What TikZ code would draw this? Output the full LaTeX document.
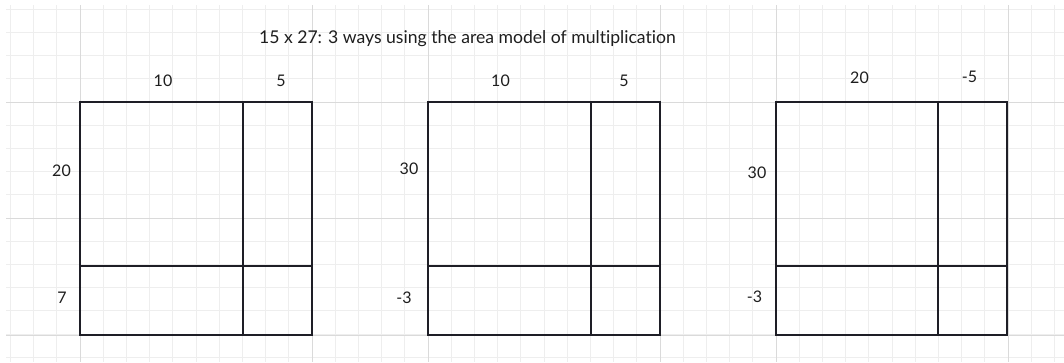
\documentclass[tikz,border=0pt]{standalone}
\usepackage{fontspec}
\setmainfont{Lato}[Ligatures={NoCommon}]
\definecolor{ink}{RGB}{30,30,38}
\definecolor{txt}{RGB}{30,30,30}
\definecolor{gridminor}{RGB}{238,238,238}
\definecolor{gridmajor}{RGB}{218,218,218}
\begin{document}
\begin{tikzpicture}[x=1pt,y=-1pt,
  boxline/.style={draw=ink,line width=2.8pt,line cap=rect},
  lbl/.style={text=txt,font=\fontsize{16}{18}\selectfont,inner sep=0pt,anchor=center},
  ttl/.style={text=txt,font=\fontsize{17.6}{20}\selectfont,inner sep=0pt,anchor=center}]
\useasboundingbox[fill=white] (0,0) rectangle (1064,362);
% grid
\foreach \k in {0,...,45}{
  \pgfmathsetmacro{\xx}{10.4+23.2*\k}
  \draw[gridminor,line width=1pt] (\xx,5) -- (\xx,362);
}
\foreach \k in {0,...,15}{
  \pgfmathsetmacro{\yy}{9.2+23.2*\k}
  \draw[gridminor,line width=1pt] (6,\yy) -- (1064,\yy);
}
\foreach \xx in {80,312,428,660,776,1008}{
  \draw[gridmajor,line width=1pt] (\xx,5) -- (\xx,362);
}
\foreach \yy in {102,218,335}{
  \draw[gridmajor,line width=1pt] (6,\yy) -- (1064,\yy);
}
% title
\node[ttl] (title) at (467.5,39) {15 x 27: 3 ways using the area model of multiplication};
% box 1
\draw[boxline] (80,102) rectangle (312,335);
\draw[boxline] (243,102) -- (243,335);
\draw[boxline] (80,266) -- (312,266);
\node[lbl] (a1) at (163,81) {10};
\node[lbl] (a2) at (281,81) {5};
\node[lbl] (a3) at (61.5,171) {20};
\node[lbl] (a4) at (62,298) {7};
% box 2
\draw[boxline] (428,102) rectangle (660,335);
\draw[boxline] (591,102) -- (591,335);
\draw[boxline] (428,266) -- (660,266);
\node[lbl] (b1) at (500.5,80.5) {10};
\node[lbl] (b2) at (624,80.5) {5};
\node[lbl] (b3) at (409,169) {30};
\node[lbl] (b4) at (404,298) {-3};
% box 3
\draw[boxline] (776,102) rectangle (1007,335);
\draw[boxline] (938,102) -- (938,335);
\draw[boxline] (776,266) -- (1007,266);
\node[lbl] (c1) at (859.5,78) {20};
\node[lbl] (c2) at (969.5,77) {-5};
\node[lbl] (c3) at (757,173) {30};
\node[lbl] (c4) at (754.5,296.5) {-3};
\end{tikzpicture}
\end{document}
